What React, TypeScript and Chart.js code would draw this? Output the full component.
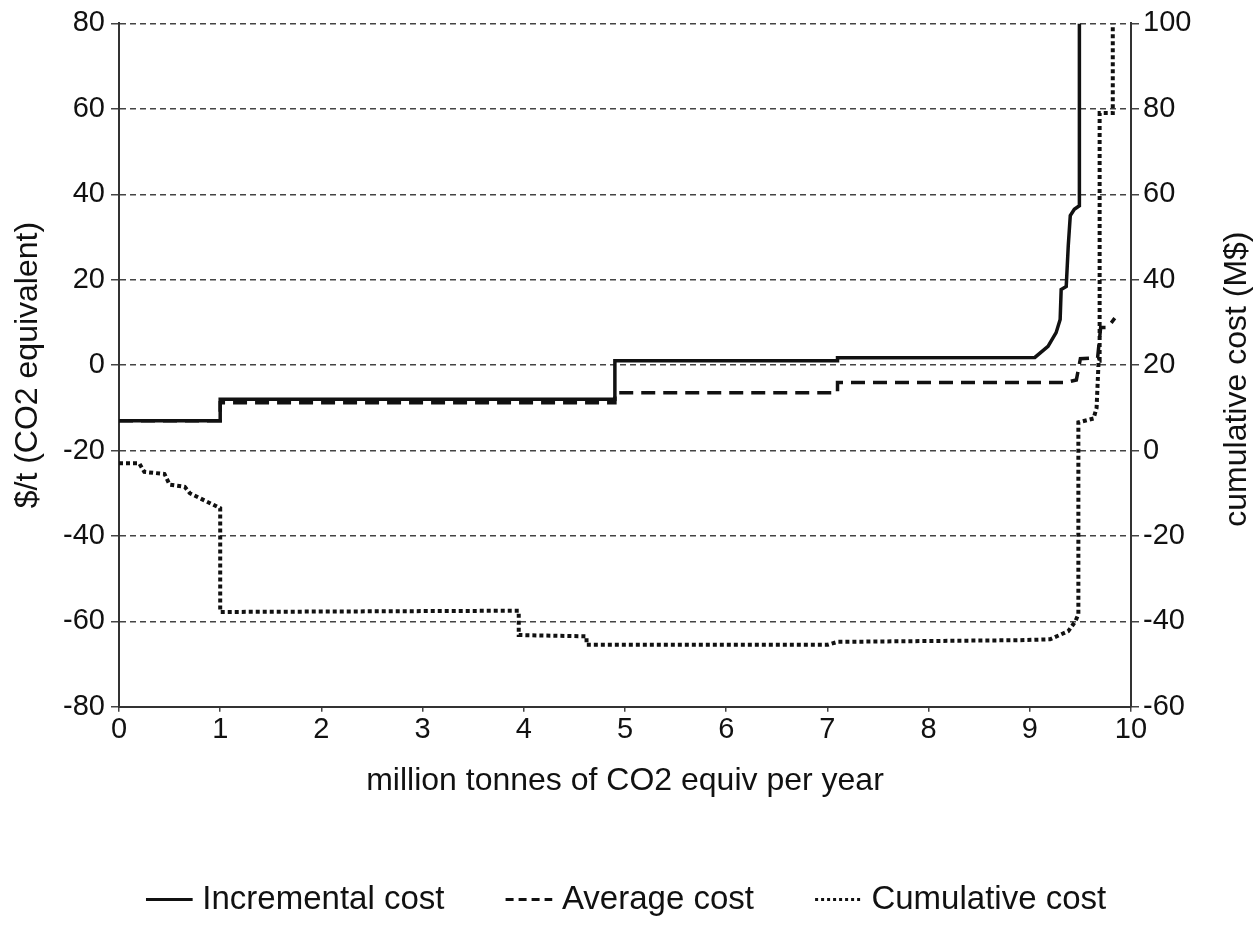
import React, { useEffect, useRef } from "react";
import { Chart, registerables } from "chart.js";

Chart.register(...registerables);

// Incremental cost ($/t, left axis)
const incX = [0, 1.0, 1.0, 4.9, 4.9, 7.1, 7.1, 9.05, 9.18, 9.26, 9.3, 9.31, 9.36, 9.38, 9.4, 9.44, 9.49, 9.49];
const incY = [-13, -13, -8, -8, 1, 1, 1.7, 1.8, 4.4, 7.6, 10.7, 17.7, 18.4, 27.9, 35, 36.5, 37.3, 80];

// Average cost ($/t, left axis)
const avgX = [0, 1.0, 1.0, 4.9, 4.9, 7.1, 7.1, 9.35, 9.46, 9.48, 9.5, 9.67, 9.7, 9.77, 9.84];
const avgY = [-13, -13, -8.8, -8.8, -6.5, -6.5, -4.1, -4.1, -3.5, -1, 1.5, 1.7, 8.8, 8.8, 11];

// Cumulative cost (M$, right axis)
const cumX = [0, 0.2, 0.25, 0.45, 0.5, 0.65, 0.7, 1.0, 1.0, 3.95, 3.95, 4.62, 4.62, 7.0, 7.1, 8.9, 9.2, 9.38, 9.45, 9.48, 9.48, 9.63, 9.66, 9.68, 9.69, 9.69, 9.82, 9.82];
const cumY = [-3, -3, -5, -5.5, -8, -8.5, -10, -13.5, -37.8, -37.5, -43.2, -43.5, -45.5, -45.5, -44.8, -44.4, -44.2, -42.3, -40, -38.3, 6.6, 7.5, 10, 21, 21, 79, 79, 100];

const seriesLabels = ["Incremental cost", "Average cost", "Cumulative cost"];
const legendDashes = [[], [8, 5], [3, 3]];
const xTitle = "million tonnes of CO2 equiv per year";
const yLeftTitle = "$/t (CO2 equivalent)";
const yRightTitle = "cumulative cost (M$)";

const FONT = "'Liberation Sans', Arial, Helvetica, sans-serif";
const INK = "#111";
const GRID = "#444";

const toPts = (xs: number[], ys: number[]) => xs.map((x, i) => ({ x, y: ys[i] }));

const rightTitlePlugin = {
  id: "rightTitle",
  afterDraw(chart: any) {
    const { ctx, chartArea } = chart;
    ctx.save();
    ctx.font = `32px ${FONT}`;
    ctx.fillStyle = INK;
    ctx.textAlign = "center";
    ctx.textBaseline = "middle";
    ctx.translate(1237, (chartArea.top + chartArea.bottom) / 2 + 14);
    ctx.rotate(-Math.PI / 2);
    ctx.fillText(yRightTitle, 0, 0);
    ctx.restore();
  },
};

export default function App() {
  const ref = useRef<HTMLCanvasElement | null>(null);

  useEffect(() => {
    if (!ref.current) return;
    const chart = new Chart(ref.current, {
      type: "line",
      data: {
        datasets: [
          {
            label: seriesLabels[0],
            data: toPts(incX, incY),
            borderColor: INK,
            backgroundColor: INK,
            borderWidth: 3.5,
            borderDash: [],
            pointRadius: 0,
            tension: 0,
            yAxisID: "y",
            pointStyle: "line",
          },
          {
            label: seriesLabels[1],
            data: toPts(avgX, avgY),
            borderColor: INK,
            backgroundColor: INK,
            borderWidth: 3.5,
            borderDash: [14, 8],
            pointRadius: 0,
            tension: 0,
            yAxisID: "y",
            pointStyle: "line",
          },
          {
            label: seriesLabels[2],
            data: toPts(cumX, cumY),
            borderColor: INK,
            backgroundColor: INK,
            borderWidth: 4,
            borderDash: [4, 3],
            pointRadius: 0,
            tension: 0,
            yAxisID: "y1",
            pointStyle: "line",
          },
        ],
      },
      options: {
        animation: false,
        responsive: true,
        maintainAspectRatio: false,
        layout: { padding: { top: 22, left: 0, right: 0, bottom: 0 } },
        plugins: {
          tooltip: { enabled: false },
          legend: {
            position: "bottom",
            labels: {
              usePointStyle: true,
              pointStyle: "line",
              boxWidth: 45,
              padding: 68,
              color: INK,
              font: { family: FONT, size: 33 },
              generateLabels: (c: any) => {
                const items = Chart.defaults.plugins.legend.labels.generateLabels(c);
                return items.map((it: any) => ({
                  ...it,
                  lineDash: legendDashes[it.datasetIndex] || [],
                  lineWidth: 3,
                  strokeStyle: INK,
                  fillStyle: INK,
                  pointStyle: "line",
                }));
              },
            },
          },
        },
        scales: {
          x: {
            type: "linear",
            min: 0,
            max: 10,
            ticks: {
              stepSize: 1,
              color: INK,
              padding: 1,
              font: { family: FONT, size: 29 },
            },
            grid: { drawOnChartArea: false, tickLength: 5, color: GRID, lineWidth: 1.5 },
            border: { display: true, color: "#333", width: 2 },
            title: {
              display: true,
              text: xTitle,
              color: INK,
              font: { family: FONT, size: 32 },
              padding: { top: 13, bottom: 15 },
            },
          },
          y: {
            position: "left",
            min: -80,
            max: 80,
            ticks: {
              stepSize: 20,
              color: INK,
              padding: 6,
              font: { family: FONT, size: 29 },
            },
            grid: { color: GRID, lineWidth: 1.5, tickLength: 8 },
            border: { display: true, color: "#333", width: 2, dash: [6, 4] },
            title: {
              display: true,
              text: yLeftTitle,
              color: INK,
              font: { family: FONT, size: 32 },
              padding: { top: 9, bottom: 0 },
            },
            afterFit: (scale: any) => {
              scale.width = 119;
            },
          },
          y1: {
            position: "right",
            min: -60,
            max: 100,
            ticks: {
              stepSize: 20,
              color: INK,
              padding: 4,
              font: { family: FONT, size: 29 },
            },
            grid: { drawOnChartArea: false, color: GRID, lineWidth: 1.5, tickLength: 8 },
            border: { display: true, color: "#333", width: 2, dash: [2, 3] },
            afterFit: (scale: any) => {
              scale.width = 128;
            },
          },
        },
      },
      plugins: [rightTitlePlugin],
    });
    return () => chart.destroy();
  }, []);

  return (
    <div style={{ position: "fixed", left: 0, top: 0, width: 1259, height: 926, background: "#fff" }}>
      <canvas ref={ref} />
    </div>
  );
}
